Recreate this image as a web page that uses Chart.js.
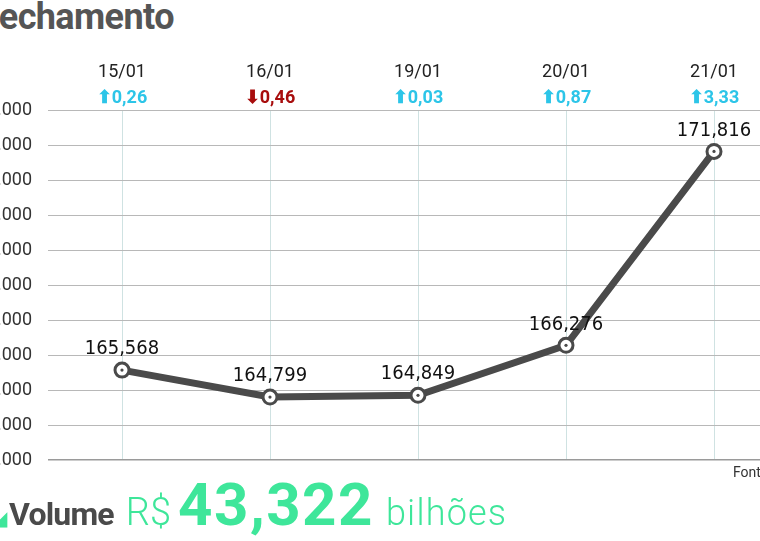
<!DOCTYPE html>
<html>
<head>
<meta charset="utf-8">
<script src="https://cdn.jsdelivr.net/npm/chart.js@4"></script>
<style>
  html, body { margin: 0; padding: 0; background: #fff; }
  body { width: 760px; height: 541px; overflow: hidden; position: relative; font-family: Roboto, sans-serif; }
  #chart { position: absolute; left: -72px; top: 0; }
  .title { position: absolute; left: -20px; top: -4px; font: bold 36px Roboto, sans-serif; color: #555; letter-spacing: -0.6px; }
  .source { position: absolute; left: 733px; top: 464px; font: 14px Roboto, sans-serif; color: #333; white-space: nowrap; }
  .volume { position: absolute; left: -8px; top: 469px; white-space: nowrap; color: #3ee69a; }
  .volume span { display: inline-block; vertical-align: baseline; }
  .icon { font-size: 20px; margin-right: 2px; }
  .vol-label { font: bold 32px Roboto, sans-serif; color: #4a4a4a; letter-spacing: -0.8px; margin-right: 12px; }
  .cur { font: 300 38px Roboto, sans-serif; margin-right: 7px; }
  .amount { font: bold 60px Roboto, sans-serif; letter-spacing: 1.5px; margin-right: 12px; }
  .unit { font: 300 36px Roboto, sans-serif; letter-spacing: 1.2px; }
</style>
</head>
<body>
<div class="title">Fechamento</div>
<canvas id="chart" width="872" height="541"></canvas>
<div class="source">Fonte: B3</div>
<div class="volume"><span class="icon">◢</span><span class="vol-label">Volume</span><span class="cur">R$</span><span class="amount">43,322</span><span class="unit">bilhões</span></div>
<script>
// trading days and daily change (%)
const dates = ['15/01', '16/01', '19/01', '20/01', '21/01'];
const changes = ['⬆0,26', '⬇0,46', '⬆0,03', '⬆0,87', '⬆3,33'];
const closing = [165568, 164799, 164849, 166276, 171816];

const yMin = 163000;
const yMax = 173000;
const yStep = 1000;

const lineColor = '#4a4a4a';
const upColor = '#2cc5e8';
const downColor = '#a80d0d';

const fmt = (v) => v.toLocaleString('en-US');

// draws the value above each point
const valueLabels = {
  id: 'valueLabels',
  afterDatasetsDraw(chart) {
    const { ctx } = chart;
    const meta = chart.getDatasetMeta(1);
    ctx.save();
    ctx.font = '20px "Liberation Sans Narrow", "DejaVu Sans Condensed", Roboto, sans-serif';
    ctx.fillStyle = '#111';
    ctx.textAlign = 'center';
    ctx.textBaseline = 'middle';
    meta.data.forEach((pt, i) => {
      ctx.fillText(fmt(closing[i]), pt.x, pt.y - 21);
    });
    ctx.restore();
  },
};

new Chart(document.getElementById('chart'), {
  type: 'line',
  data: {
    labels: dates,
    datasets: [
      {
        // small dot inside each marker
        data: closing,
        showLine: false,
        pointRadius: 1.6,
        pointBackgroundColor: lineColor,
        pointBorderWidth: 0,
      },
      {
        data: closing,
        borderColor: lineColor,
        borderWidth: 7,
        tension: 0,
        pointRadius: 7,
        pointBorderWidth: 3,
        pointBackgroundColor: '#fff',
        pointBorderColor: lineColor,
      },
    ],
  },
  options: {
    responsive: false,
    animation: false,
    events: [],
    layout: { padding: { left: 0, right: 12, top: 44, bottom: 81 } },
    plugins: {
      legend: { display: false },
      tooltip: { enabled: false },
    },
    scales: {
      x: {
        position: 'top',
        weight: 2,
        offset: true,
        border: { display: false },
        grid: { color: '#cfe2e2', lineWidth: 1, drawTicks: false },
        ticks: {
          color: '#222',
          font: { family: 'Roboto', size: 18 },
          padding: 1,
        },
        afterFit(scale) { scale.height = 40; },
      },
      x2: {
        type: 'category',
        labels: changes,
        position: 'top',
        weight: 1,
        offset: true,
        border: { display: false },
        grid: { display: false, drawTicks: false },
        ticks: {
          color: (c) => (changes[c.index].startsWith('⬇') ? downColor : upColor),
          font: { family: 'Roboto', size: 18, weight: 'bold' },
          padding: 1,
        },
        afterFit(scale) { scale.height = 26; },
      },
      y: {
        min: yMin,
        max: yMax,
        border: { display: false },
        grid: {
          drawTicks: false,
          color: (c) => (c.tick && c.tick.value === yMin ? '#9a9a9a' : '#b8b8b8'),
          lineWidth: (c) => (c.tick && c.tick.value === yMin ? 1.5 : 1),
        },
        ticks: {
          stepSize: yStep,
          color: '#333',
          font: { family: 'Roboto', size: 18 },
          padding: 16,
          callback: (v) => v.toLocaleString('pt-BR'),
        },
        afterFit(scale) { scale.width = 120; },
      },
    },
  },
  plugins: [valueLabels],
});
</script>
</body>
</html>
